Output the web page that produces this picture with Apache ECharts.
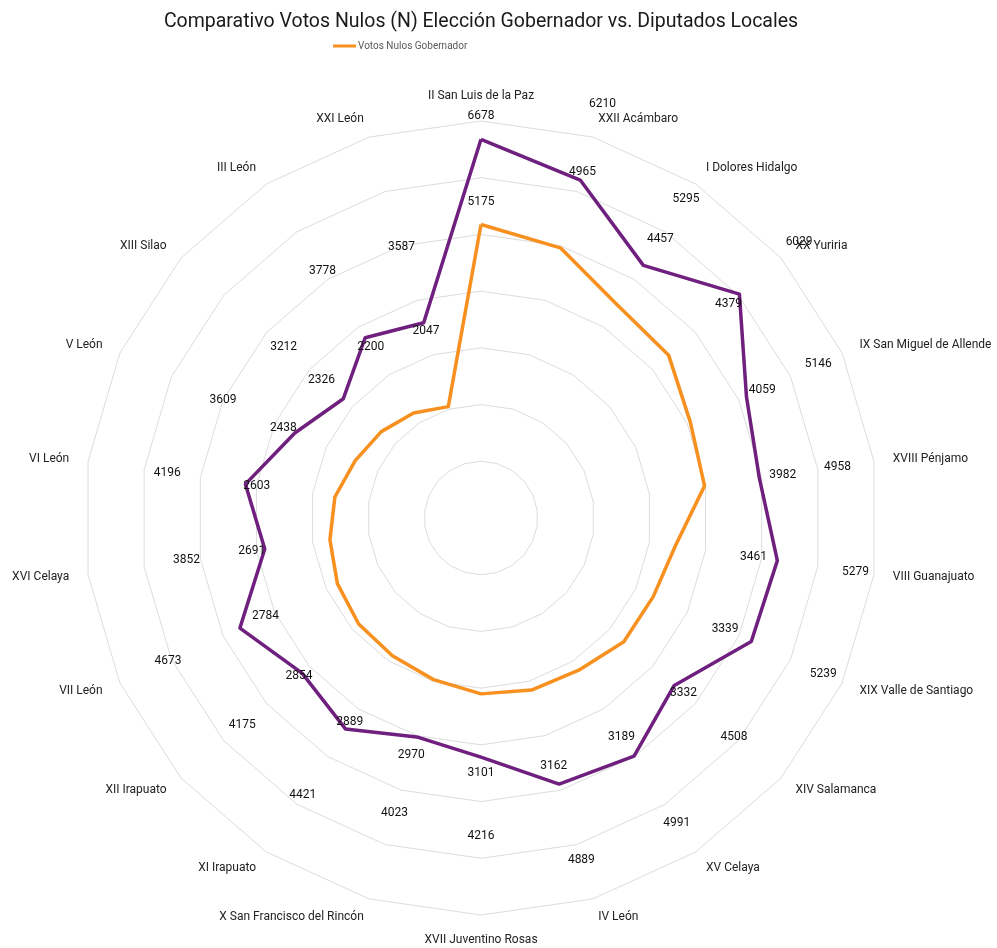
<!DOCTYPE html>
<html>
<head>
<meta charset="utf-8">
<script src="https://cdn.jsdelivr.net/npm/echarts@6/dist/echarts.min.js"></script>
<style>
html,body{margin:0;padding:0;background:#ffffff;}
#chart{width:997px;height:948px;}
</style>
</head>
<body>
<div id="chart"></div>
<script>
// ---- Data (clockwise from the top) ----
const categories = [
  'II San Luis de la Paz', 'XXII Acámbaro', 'I Dolores Hidalgo', 'XX Yuriria',
  'IX San Miguel de Allende', 'XVIII Pénjamo', 'VIII Guanajuato', 'XIX Valle de Santiago',
  'XIV Salamanca', 'XV Celaya', 'IV León', 'XVII Juventino Rosas',
  'X San Francisco del Rincón', 'XI Irapuato', 'XII Irapuato', 'VII León',
  'XVI Celaya', 'VI León', 'V León', 'XIII Silao', 'III León', 'XXI León'
];
const gobernador = [5175, 4965, 4457, 4379, 4059, 3982, 3461, 3339, 3332, 3189, 3162,
                    3101, 2970, 2889, 2854, 2784, 2691, 2603, 2438, 2326, 2200, 2047];
const diputados  = [6678, 6210, 5295, 6029, 5146, 4958, 5279, 5239, 4508, 4991, 4889,
                    4216, 4023, 4421, 4175, 4673, 3852, 4196, 3609, 3212, 3778, 3587];
const axisMin = 0;
const axisMax = 7000;
const splitCount = 7;
const seriesNames = ['Votos Nulos Gobernador', 'Votos Nulos Diputados Locales'];

// ---- Layout / style ----
const CENTER = [481, 518];
const RADIUS = 397;
const FONT = 'Roboto';
const ORANGE = '#f7901e';
const PURPLE = '#6f1f7d';

// ECharts lays radar indicators out counter-clockwise; reorder so they run clockwise.
const order = categories.map((_, i) => (i === 0 ? 0 : categories.length - i));
const reorder = arr => order.map(i => arr[i]);

// Data labels sit radially outside each vertex (px distance converted to axis units).
const labelGapPx = i => (i === 0 ? 23 : 79);
function labelSeries(values, name) {
  const shifted = values.map((v, i) => v + labelGapPx(i) * (axisMax - axisMin) / RADIUS);
  const lookup = new Map();
  shifted.forEach((s, i) => lookup.set(s, values[i]));
  const ordered = reorder(shifted);
  return {
    type: 'radar',
    name: name,
    silent: true,
    symbol: 'circle',
    symbolSize: 1,
    itemStyle: { color: 'rgba(0,0,0,0)' },
    lineStyle: { width: 0, opacity: 0 },
    label: {
      show: true,
      position: 'inside',
      color: '#111111',
      fontSize: 12,
      fontFamily: FONT,
      formatter: p => {
        const v = Array.isArray(p.value) ? p.value[0] : p.value;
        return lookup.has(v) ? String(lookup.get(v)) : String(Math.round(v));
      }
    },
    data: [{ value: ordered }],
    z: 5
  };
}

const chart = echarts.init(document.getElementById('chart'), null, { renderer: 'canvas' });
chart.setOption({
  backgroundColor: '#ffffff',
  animation: false,
  title: {
    text: 'Comparativo Votos Nulos (N) Elección Gobernador vs. Diputados Locales',
    left: 476,
    textAlign: 'center',
    top: 7,
    textStyle: { fontFamily: FONT, fontSize: 19.5, fontWeight: 'normal', color: '#1a1a1a' }
  },
  legend: {
    data: [seriesNames[0]],
    left: 333,
    top: 41,
    padding: 0,
    icon: 'rect',
    itemWidth: 23,
    itemHeight: 3,
    itemGap: 2,
    textStyle: { fontFamily: FONT, fontSize: 10, color: '#595959', padding: [0, 0, 0, -3] }
  },
  radar: {
    center: CENTER,
    radius: RADIUS,
    startAngle: 90,
    shape: 'polygon',
    splitNumber: splitCount,
    indicator: reorder(categories).map(n => ({ name: n, min: axisMin, max: axisMax })),
    nameGap: 19,
    axisName: { color: '#222222', fontSize: 12, fontFamily: FONT },
    axisLine: { show: false },
    axisTick: { show: false },
    axisLabel: { show: false },
    splitLine: { lineStyle: { color: '#dcdcdc', width: 1 } },
    splitArea: { show: false }
  },
  series: [
    {
      type: 'radar',
      name: seriesNames[0],
      silent: true,
      symbol: 'none',
      itemStyle: { color: ORANGE },
      lineStyle: { color: ORANGE, width: 3.5 },
      data: [{ value: reorder(gobernador), name: seriesNames[0] }],
      z: 2
    },
    {
      type: 'radar',
      name: seriesNames[1],
      silent: true,
      symbol: 'none',
      itemStyle: { color: PURPLE },
      lineStyle: { color: PURPLE, width: 3.5 },
      data: [{ value: reorder(diputados), name: seriesNames[1] }],
      z: 3
    },
    labelSeries(gobernador, 'lbl-gob'),
    labelSeries(diputados, 'lbl-dip')
  ]
});
</script>
</body>
</html>
